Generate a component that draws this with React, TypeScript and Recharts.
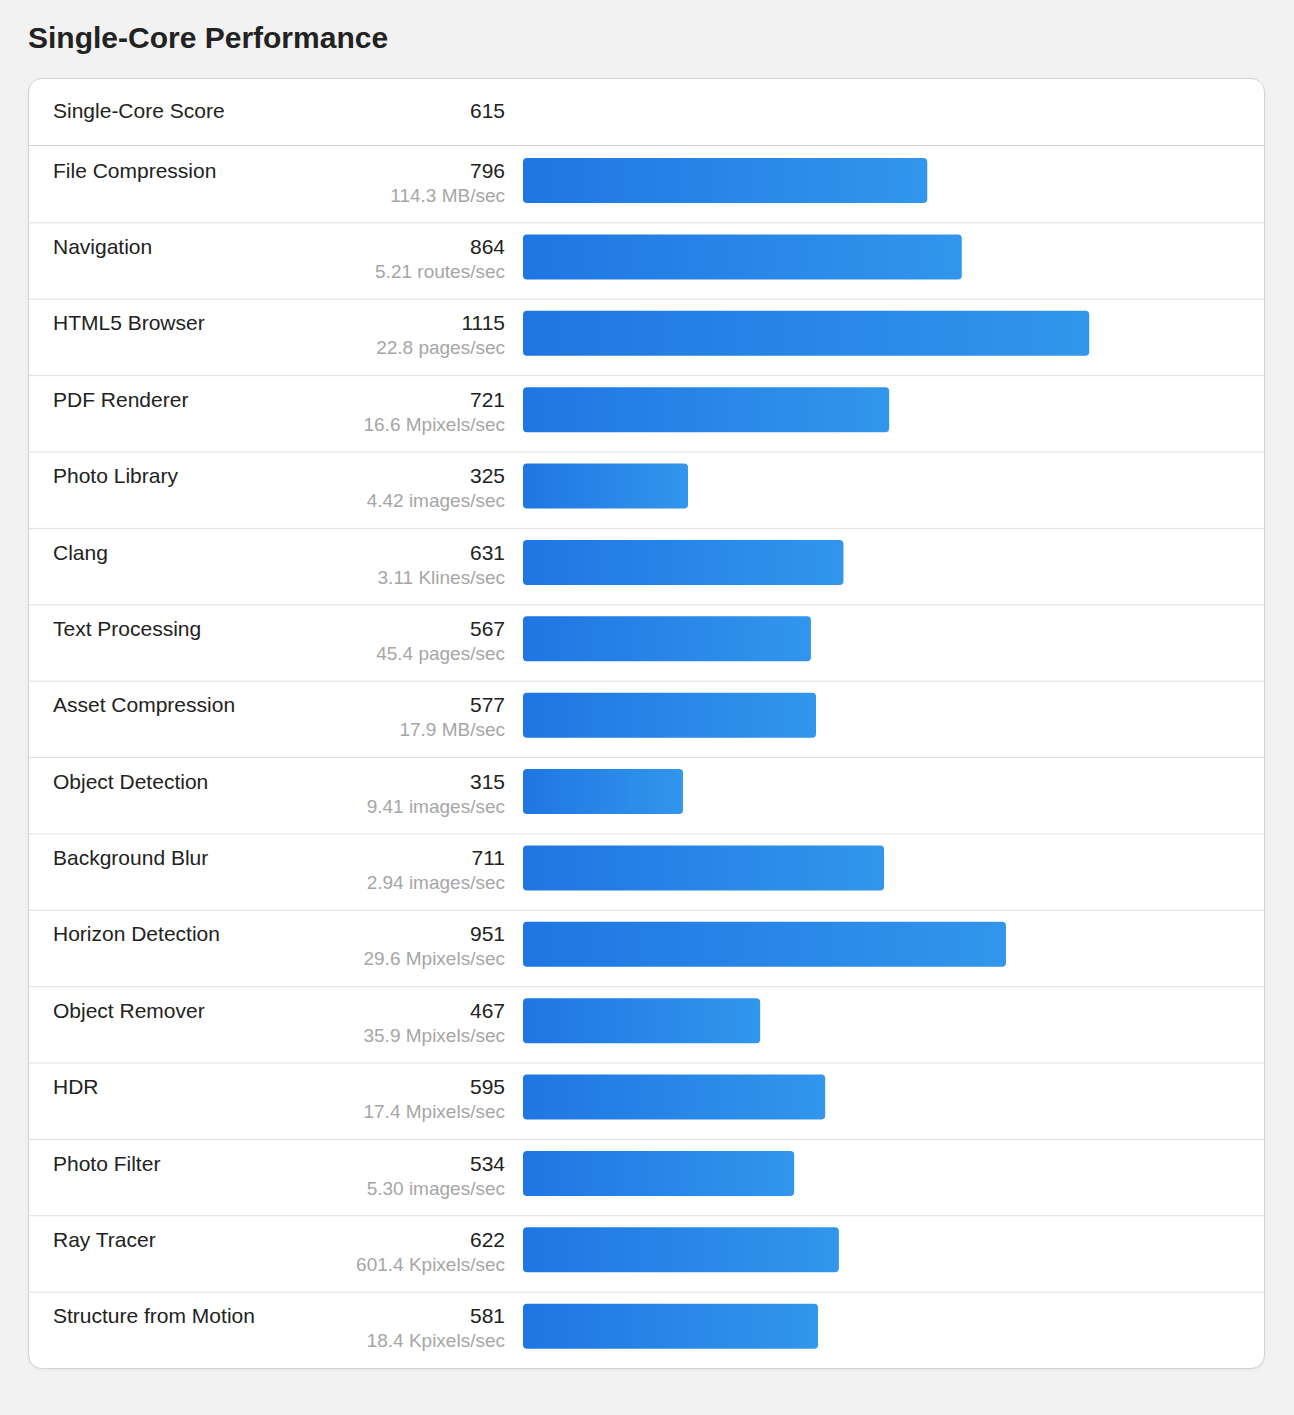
import React from "react";
import { Bar, BarChart, XAxis, YAxis } from "recharts";

const overallLabel = "Single-Core Score";
const overallScore = 615;

const tests = [
  "File Compression",
  "Navigation",
  "HTML5 Browser",
  "PDF Renderer",
  "Photo Library",
  "Clang",
  "Text Processing",
  "Asset Compression",
  "Object Detection",
  "Background Blur",
  "Horizon Detection",
  "Object Remover",
  "HDR",
  "Photo Filter",
  "Ray Tracer",
  "Structure from Motion",
];

const scores = [796, 864, 1115, 721, 325, 631, 567, 577, 315, 711, 951, 467, 595, 534, 622, 581];

const rates = [
  "114.3 MB/sec",
  "5.21 routes/sec",
  "22.8 pages/sec",
  "16.6 Mpixels/sec",
  "4.42 images/sec",
  "3.11 Klines/sec",
  "45.4 pages/sec",
  "17.9 MB/sec",
  "9.41 images/sec",
  "2.94 images/sec",
  "29.6 Mpixels/sec",
  "35.9 Mpixels/sec",
  "17.4 Mpixels/sec",
  "5.30 images/sec",
  "601.4 Kpixels/sec",
  "18.4 Kpixels/sec",
];

const rows = tests.map((name, i) => ({ name, score: scores[i], rate: rates[i] }));

const FONT = '"Liberation Sans", Arial, Helvetica, sans-serif';
const CARD_W = 1235;
const AXIS_W = 494;

function RowTick(props: any) {
  const { y, payload, index } = props;
  const row = rows[index] ?? rows.find((r) => r.name === payload.value);
  const half = payload.offset ?? 38;
  return (
    <g>
      <text x={24} y={y - 6.5} fontSize={21} fill="#222" fontFamily={FONT}>
        {payload.value}
      </text>
      <text x={476} y={y - 6.5} fontSize={21} fill="#222" fontFamily={FONT} textAnchor="end">
        {row?.score}
      </text>
      <text x={476} y={y + 17.5} fontSize={19} fill="#a6a6a6" fontFamily={FONT} textAnchor="end">
        {row?.rate}
      </text>
      {index < rows.length - 1 && (
        <line x1={0} x2={CARD_W} y1={y + half + 0.5} y2={y + half + 0.5} stroke="#dedede" strokeWidth={1} />
      )}
    </g>
  );
}

function ScoreBar(props: any) {
  const { x, y, width, height } = props;
  if (!width || width <= 0) return null;
  return <rect x={x} y={y - 4} width={width} height={height} rx={4} ry={4} fill="url(#barGrad)" />;
}

export default function App() {
  return (
    <div
      style={{
        position: "absolute",
        left: 0,
        top: 0,
        width: 1294,
        height: 1415,
        background: "#f2f2f2",
        fontFamily: FONT,
      }}
    >
      <div
        style={{
          position: "absolute",
          left: 28,
          top: 20,
          fontSize: 30,
          fontWeight: 700,
          color: "#222",
          lineHeight: "36px",
        }}
      >
        Single-Core Performance
      </div>
      <div
        style={{
          position: "absolute",
          left: 28,
          top: 78,
          width: CARD_W,
          background: "#fff",
          border: "1px solid #d4d4d4",
          borderRadius: 14,
          boxShadow: "0 1px 3px rgba(0,0,0,0.06)",
          overflow: "hidden",
        }}
      >
        <div
          style={{
            position: "relative",
            height: 66,
            borderBottom: "1px solid #d0d0d0",
          }}
        >
          <span style={{ position: "absolute", left: 24, top: 20, fontSize: 21, color: "#222", lineHeight: "24px" }}>
            {overallLabel}
          </span>
          <span
            style={{
              position: "absolute",
              right: CARD_W - 476,
              top: 20,
              fontSize: 21,
              color: "#222",
              lineHeight: "24px",
            }}
          >
            {overallScore}
          </span>
        </div>
        <BarChart
          width={CARD_W}
          height={1222}
          data={rows}
          layout="vertical"
          margin={{ top: 0, right: 30, bottom: 0, left: 0 }}
          barCategoryGap={0}
        >
          <defs>
            <linearGradient id="barGrad" x1="0" y1="0" x2="1" y2="0">
              <stop offset="0%" stopColor="#1f76e3" />
              <stop offset="100%" stopColor="#3296ec" />
            </linearGradient>
          </defs>
          <XAxis type="number" domain={[0, 1400]} hide />
          <YAxis
            type="category"
            dataKey="name"
            width={AXIS_W}
            axisLine={false}
            tickLine={false}
            interval={0}
            tick={<RowTick />}
          />
          <Bar dataKey="score" barSize={45} shape={<ScoreBar />} isAnimationActive={false} />
        </BarChart>
      </div>
    </div>
  );
}
